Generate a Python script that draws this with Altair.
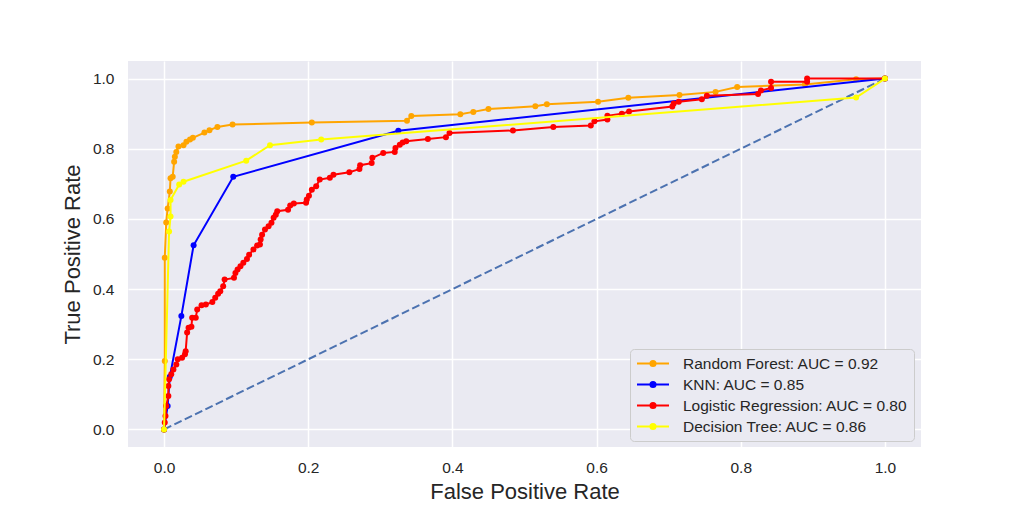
import altair as alt
import pandas as pd

labels = ["Random Forest: AUC = 0.92", "KNN: AUC = 0.85",
          "Logistic Regression: AUC = 0.80", "Decision Tree: AUC = 0.86"]
colors = ["#FFA500", "#0000FF", "#FF0000", "#FFFF00"]

rf_fpr = [0, 0.001, 0.001, 0.003, 0.005, 0.008, 0.009, 0.012, 0.014, 0.015, 0.017, 0.02, 0.027,
          0.031, 0.036, 0.04, 0.056, 0.063, 0.074, 0.095, 0.205, 0.337, 0.343, 0.411, 0.429,
          0.45, 0.515, 0.531, 0.602, 0.644, 0.715, 0.765, 0.795, 0.889, 0.96, 1.0]
rf_tpr = [0, 0.195, 0.489, 0.59, 0.63, 0.678, 0.716, 0.72, 0.763, 0.777, 0.791, 0.806, 0.81,
          0.82, 0.826, 0.831, 0.846, 0.853, 0.862, 0.869, 0.875, 0.88, 0.893, 0.898, 0.905,
          0.913, 0.921, 0.927, 0.934, 0.945, 0.953, 0.962, 0.976, 0.983, 0.998, 1.0]

knn_fpr = [0, 0.005, 0.008, 0.024, 0.041, 0.096, 0.325, 1.0]
knn_tpr = [0, 0.067, 0.15, 0.323, 0.525, 0.72, 0.851, 1.0]

lr_fpr = [0, 0.001, 0.002, 0.003, 0.006, 0.006, 0.007, 0.010, 0.013, 0.017, 0.019, 0.025, 0.029,
          0.030, 0.032, 0.034, 0.038, 0.039, 0.044, 0.046, 0.052, 0.058, 0.067, 0.071, 0.075,
          0.078, 0.082, 0.084, 0.097, 0.099, 0.102, 0.106, 0.110, 0.115, 0.118, 0.124, 0.129,
          0.133, 0.134, 0.136, 0.140, 0.145, 0.149, 0.152, 0.155, 0.157, 0.172, 0.175, 0.180,
          0.197, 0.198, 0.201, 0.205, 0.211, 0.216, 0.230, 0.235, 0.257, 0.271, 0.272, 0.288,
          0.289, 0.304, 0.320, 0.321, 0.327, 0.331, 0.336, 0.366, 0.391, 0.396, 0.484, 0.540,
          0.592, 0.597, 0.615, 0.615, 0.635, 0.645, 0.705, 0.707, 0.714, 0.746, 0.753, 0.824,
          0.828, 0.842, 0.842, 0.892, 0.892, 1.0]
lr_tpr = [0, 0.02, 0.038, 0.067, 0.095, 0.124, 0.143, 0.157, 0.171, 0.185, 0.2, 0.204, 0.214,
          0.223, 0.276, 0.29, 0.293, 0.318, 0.318, 0.342, 0.354, 0.356, 0.363, 0.375, 0.387,
          0.394, 0.408, 0.427, 0.432, 0.446, 0.456, 0.465, 0.475, 0.486, 0.498, 0.513, 0.524,
          0.527, 0.541, 0.555, 0.570, 0.579, 0.589, 0.603, 0.612, 0.622, 0.626, 0.638, 0.644,
          0.646, 0.655, 0.666, 0.683, 0.693, 0.712, 0.717, 0.726, 0.733, 0.742, 0.753, 0.759,
          0.774, 0.788, 0.791, 0.802, 0.811, 0.818, 0.821, 0.828, 0.833, 0.845, 0.852, 0.862,
          0.866, 0.878, 0.883, 0.894, 0.90, 0.906, 0.920, 0.929, 0.934, 0.941, 0.951, 0.956,
          0.966, 0.973, 0.991, 0.991, 1.0, 1.0]

dt_fpr = [0, 0.007, 0.009, 0.009, 0.021, 0.027, 0.114, 0.147, 0.218, 0.96, 1.0]
dt_tpr = [0, 0.564, 0.607, 0.654, 0.698, 0.706, 0.766, 0.81, 0.826, 0.946, 1.0]

diag_x = [0, 1]
diag_y = [0, 1]

rows = []
for lab, fx, ty in zip(labels, [rf_fpr, knn_fpr, lr_fpr, dt_fpr], [rf_tpr, knn_tpr, lr_tpr, dt_tpr]):
    for i, (a, b) in enumerate(zip(fx, ty)):
        rows.append({"model": lab, "fpr": a, "tpr": b, "idx": i})
df = pd.DataFrame(rows)
diag = pd.DataFrame({"fpr": diag_x, "tpr": diag_y})

FONT = "Liberation Sans"
TXT = "#262626"

xs = alt.Scale(domain=[-0.05, 1.05], nice=False, zero=False)
ys = alt.Scale(domain=[-0.05, 1.05], nice=False, zero=False)
ticks = [0, 0.2, 0.4, 0.6, 0.8, 1.0]

x_enc = alt.X("fpr:Q", scale=xs, title="False Positive Rate",
              axis=alt.Axis(values=ticks, format=".1f", labelPadding=13, titlePadding=6))
y_enc = alt.Y("tpr:Q", scale=ys, title="True Positive Rate",
              axis=alt.Axis(values=ticks, format=".1f", labelPadding=14, titlePadding=8))

sym = "M-1,0H1M-0.16,0A0.16,0.16,0,1,1,0.16,0A0.16,0.16,0,1,1,-0.16,0Z"
color_enc = alt.Color("model:N", scale=alt.Scale(domain=labels, range=colors),
                      legend=alt.Legend(title=None, orient="none", legendX=502, legendY=288,
                                        symbolType=sym, symbolSize=1024, symbolStrokeWidth=2,
                                        labelFont=FONT, labelFontSize=15.5, labelColor=TXT,
                                        labelOffset=13, padding=6, rowPadding=4, clipHeight=17,
                                        fillColor="#EAEAF2", strokeColor="#CCCCCC",
                                        cornerRadius=4, labelLimit=400))

diag_layer = alt.Chart(diag).mark_line(color="#4C72B0", strokeWidth=2, strokeDash=[8, 3.5]).encode(
    x=x_enc, y=y_enc)

lines = alt.Chart(df).mark_line(strokeWidth=2).encode(
    x=x_enc, y=y_enc, color=color_enc, order="idx:Q")
points = alt.Chart(df).mark_circle(size=36, opacity=1).encode(
    x=x_enc, y=y_enc, color=color_enc)

layers = []
for lab in labels:
    layers.append(lines.transform_filter(alt.datum.model == lab))
    layers.append(points.transform_filter(alt.datum.model == lab))

chart = alt.layer(diag_layer, *layers).properties(
    width=793, height=386,
    autosize=alt.AutoSizeParams(type="none"),
    padding={"left": 120, "top": 53, "right": 80, "bottom": 57},
    background="white",
).configure_view(stroke=None, fill="#EAEAF2").configure_axis(
    grid=True, gridColor="white", gridWidth=1.5, domain=False, ticks=False,
    labelFont=FONT, labelFontSize=15.5, labelColor=TXT,
    titleFont=FONT, titleFontSize=22, titleColor=TXT, titleFontWeight="normal",
)

chart.save("out.html", embed_options={"renderer": "svg", "actions": False})
